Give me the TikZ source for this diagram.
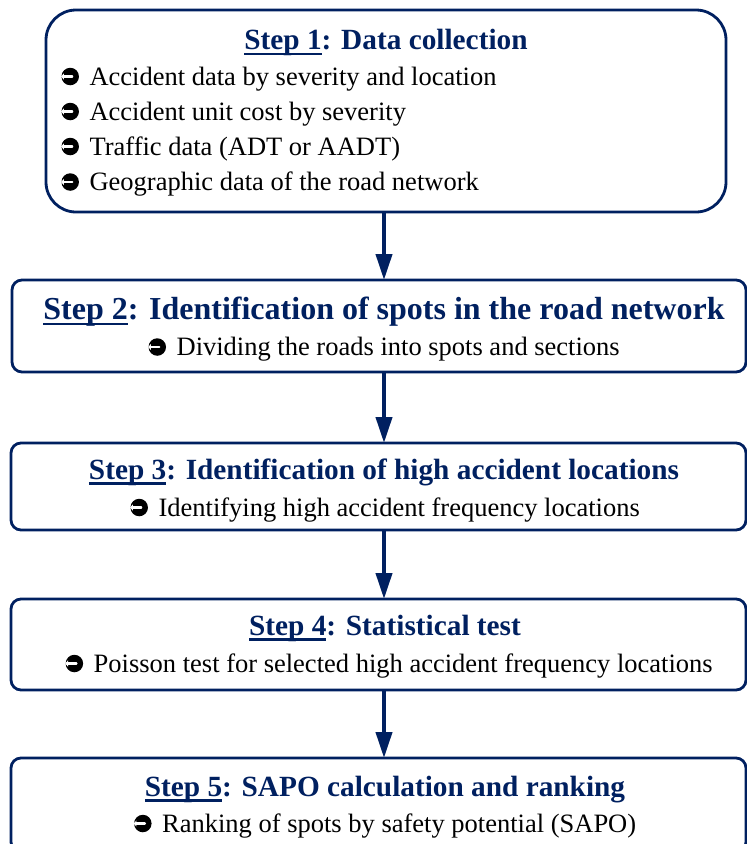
\documentclass[tikz,border=0pt]{standalone}
\usepackage{fontspec}
\setmainfont{Liberation Serif}
\usetikzlibrary{arrows.meta}
\definecolor{navy}{HTML}{002060}

% underlined step label
\newcommand\stepul[1]{\setbox0\hbox{#1}\rlap{\rule[-0.2em]{\wd0}{0.09em}}\box0}
% round arrow bullet
\newcommand\hookbullet{\tikz[baseline=0pt]{%
  \fill (0.32em,0.32em) circle[radius=0.33em];
  \fill[white] (-0.02em,0.32em) -- (0.08em,0.44em) -- (0.08em,0.20em) -- cycle;
  \draw[white,line width=0.08em,line cap=round] (0.03em,0.32em) -- (0.40em,0.32em);}\hspace{0.4em}}

\tikzset{
  box/.style={draw=navy, line width=2.8pt, rounded corners=10pt, fill=white,
              inner sep=0pt, outer sep=0pt},
  title/.style={font=\fontsize{29.3}{32}\selectfont\bfseries, text=navy,
                inner sep=0pt, anchor=base},
  bigtitle/.style={title, font=\fontsize{32}{35}\selectfont\bfseries},
  body/.style={font=\fontsize{26.5}{30}\selectfont, inner sep=0pt, anchor=base},
  item/.style={body, anchor=base west},
  flow/.style={draw=navy, line width=4pt, -{Triangle[length=26pt,width=16pt]}}
}

\begin{document}
\begin{tikzpicture}[x=1pt, y=-1pt]
\useasboundingbox (0,0) rectangle (747,844);

% boxes
\node[box, rounded corners=30pt, minimum width=680pt, minimum height=202pt] (b1) at (386,111) {};
\node[box, minimum width=734pt, minimum height=92pt] (b2) at (379,326) {};
\node[box, minimum width=735pt, minimum height=87pt] (b3) at (378.5,486.5) {};
\node[box, minimum width=735pt, minimum height=91pt] (b4) at (378.5,644.5) {};
\node[box, minimum width=735pt, minimum height=94pt] (b5) at (378.5,805) {};

% step 1
\node[title] (t1) at (386,49.5) {\stepul{Step 1}: Data collection};
\node[item] (i1) at (61,85) {\hookbullet Accident data by severity and location};
\node[item] (i2) at (61,120) {\hookbullet Accident unit cost by severity};
\node[item] (i3) at (61,155) {\hookbullet Traffic data (ADT or AADT)};
\node[item] (i4) at (61,190.5) {\hookbullet Geographic data of the road network};

% step 2
\node[bigtitle] (t2) at (384,319) {\stepul{Step 2}: Identification of spots in the road network};
\node[body] (s2) at (384,355.5) {\hookbullet Dividing the roads into spots and sections};

% step 3
\node[title] (t3) at (384,479) {\stepul{Step 3}: Identification of high accident locations};
\node[body] (s3) at (385,516) {\hookbullet Identifying high accident frequency locations};

% step 4
\node[title] (t4) at (385,635) {\stepul{Step 4}: Statistical test};
\node[body] (s4) at (389,672) {\hookbullet Poisson test for selected high accident frequency locations};

% step 5
\node[title] (t5) at (385,796) {\stepul{Step 5}: SAPO calculation and ranking};
\node[body] (s5) at (385,832) {\hookbullet Ranking of spots by safety potential (SAPO)};

% connectors
\coordinate (ax) at (384,0);
\draw[flow] (b1.south -| ax) -- (b2.north -| ax);
\draw[flow] (b2.south -| ax) -- (b3.north -| ax);
\draw[flow] (b3.south -| ax) -- (b4.north -| ax);
\draw[flow] (b4.south -| ax) -- (b5.north -| ax);
\end{tikzpicture}
\end{document}
